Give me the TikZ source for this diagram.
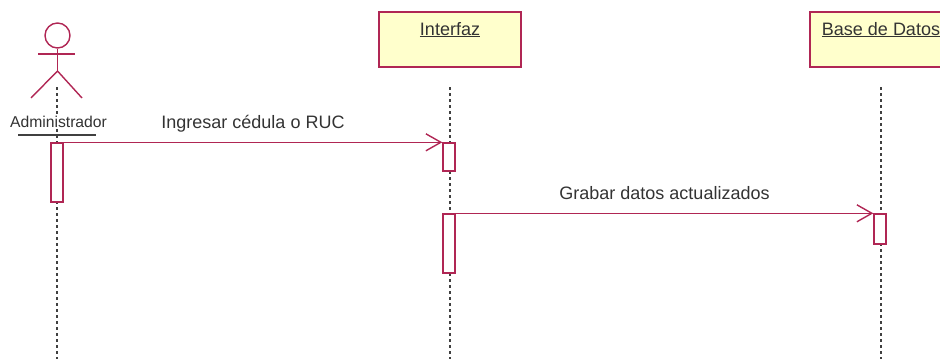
\documentclass[tikz,border=0pt]{standalone}
\usepackage{fontspec}
\setmainfont{Liberation Sans}
\usetikzlibrary{arrows.meta}
\definecolor{umlred}{RGB}{176,38,84}
\definecolor{umlfill}{RGB}{255,255,204}
\tikzset{
  objbox/.style={draw=umlred, fill=umlfill, line width=1.4pt, minimum width=142pt, minimum height=55pt, inner sep=0pt},
  actbox/.style={draw=umlred, fill=white, line width=1.4pt, minimum width=12pt, inner sep=0pt},
  lifeline/.style={black!75, line width=1.4pt, dash pattern=on 3pt off 3pt},
  msg/.style={umlred, line width=1.4pt, -{Straight Barb[length=15pt,width=17pt,line width=1.4pt]}},
  msglbl/.style={text=black!80, font=\fontsize{18}{21}\selectfont, anchor=base}
}
\begin{document}
\begin{tikzpicture}[x=1pt,y=-1pt]
      \useasboundingbox (0,0) rectangle (940,359);
      % Lifelines:
      \foreach \x in {57,450,881} \draw[lifeline] (\x,87) -- (\x,359);
      % Actor:
      \node[draw=umlred, line width=1.4pt, circle, minimum size=25pt, inner sep=0pt] (head) at (57.5,35.5) {};
      \draw[umlred, line width=1.4pt] (head.south) -- (57.5,71) coordinate (hip);
      \draw[umlred, line width=1.4pt] (38,54) -- (75,54);
      \draw[umlred, line width=1.4pt] (31,98) -- (hip) -- (82,98);
      \node[msglbl, font=\fontsize{15.7}{18}\selectfont, fill=white, inner sep=1pt] (admin) at (58.5,127) {Administrador};
      \draw[gray!50!black, line width=1.4pt] (18,135) -- (96,135);
      % Objects:
      \node[objbox] (interfaz) at (450,39.5) {};
      \node[msglbl] (interfazlbl) at (450,35) {\underline{Interfaz}};
      \node[objbox] (datos) at (881,39.5) {};
      \node[msglbl] (datoslbl) at (881,35) {\underline{Base de Datos}};
      % Activations:
      \node[actbox, minimum height=59pt] (adm1) at (57,172.5) {};
      \node[actbox, minimum height=28pt] (int1) at (449,157) {};
      \node[actbox, minimum height=59pt] (int2) at (449,243.5) {};
      \node[actbox, minimum height=30pt] (bd1) at (880,229) {};
      % Messages:
      \draw[msg] (adm1.north east) -- (int1.north west) node[msglbl, midway, yshift=14pt] {Ingresar cédula o RUC};
      \draw[msg] (int2.north east) -- (bd1.north west) node[msglbl, midway, yshift=14pt] {Grabar datos actualizados};
    \end{tikzpicture}
\end{document}
